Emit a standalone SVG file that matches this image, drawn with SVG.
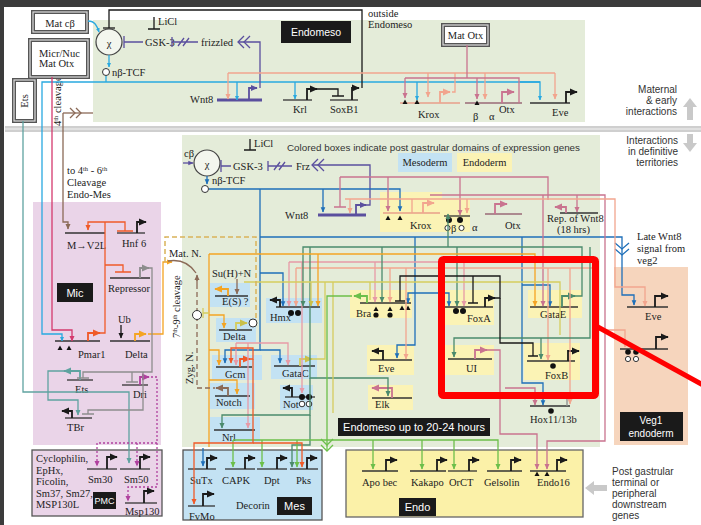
<svg xmlns="http://www.w3.org/2000/svg" width="701" height="525" viewBox="0 0 701 525">
<style>
.l{fill:none;stroke-width:1.3}
.b{fill:none;stroke-width:1.8}
.gl{fill:none;stroke:#333;stroke-width:1.3}
.t{font-family:"Liberation Serif","Times New Roman",serif;font-size:10.5px;fill:#222}
.sa{font-family:"Liberation Sans",Arial,sans-serif}
.w{font-family:"Liberation Sans",Arial,sans-serif;fill:#fff;text-anchor:middle}
.yb{fill:#fbf3b5}
.bb{fill:#c3e2f3}
.k{stroke:#1a1a1a}.cy{stroke:#29a9e0}.bl{stroke:#1e6fb9}.pu{stroke:#5a4f9e}.s{stroke:#f2a58e}.ma{stroke:#c9738f}.cr{stroke:#d43a6e}.br{stroke:#8b6a57}.or{stroke:#f05a28}.ye{stroke:#f4a423}.gr{stroke:#6cbf4a}.dg{stroke:#4a8a6c}.ol{stroke:#d5cd5e}.te{stroke:#5fa3a0}.gy{stroke:#8d8d8d}.mg{stroke:#b0409e}.pk{stroke:#e79aa6}
.dot{fill:#111}
.oc{fill:#fff;stroke:#333;stroke-width:1}
</style>
<defs>
<marker id="ak" viewBox="0 0 10 10" refX="9" refY="5" markerWidth="4.5" markerHeight="4.5" orient="auto"><path d="M0,0.5L10,5L0,9.5z" fill="#1a1a1a"/></marker>
<marker id="acy" viewBox="0 0 10 10" refX="9" refY="5" markerWidth="3.4" markerHeight="3.4" orient="auto"><path d="M0,0.5L10,5L0,9.5z" fill="#29a9e0"/></marker>
<marker id="abl" viewBox="0 0 10 10" refX="9" refY="5" markerWidth="4" markerHeight="4" orient="auto"><path d="M0,0.5L10,5L0,9.5z" fill="#1e6fb9"/></marker>
<marker id="apu" viewBox="0 0 10 10" refX="9" refY="5" markerWidth="4" markerHeight="4" orient="auto"><path d="M0,0.5L10,5L0,9.5z" fill="#5a4f9e"/></marker>
<marker id="asa" viewBox="0 0 10 10" refX="9" refY="5" markerWidth="4.5" markerHeight="4.5" orient="auto"><path d="M0,0.5L10,5L0,9.5z" fill="#f2a58e"/></marker>
<marker id="ama" viewBox="0 0 10 10" refX="9" refY="5" markerWidth="4.5" markerHeight="4.5" orient="auto"><path d="M0,0.5L10,5L0,9.5z" fill="#c9738f"/></marker>
<marker id="acr" viewBox="0 0 10 10" refX="9" refY="5" markerWidth="4.5" markerHeight="4.5" orient="auto"><path d="M0,0.5L10,5L0,9.5z" fill="#d43a6e"/></marker>
<marker id="abr" viewBox="0 0 10 10" refX="9" refY="5" markerWidth="4.5" markerHeight="4.5" orient="auto"><path d="M0,0.5L10,5L0,9.5z" fill="#8b6a57"/></marker>
<marker id="aor" viewBox="0 0 10 10" refX="9" refY="5" markerWidth="4.5" markerHeight="4.5" orient="auto"><path d="M0,0.5L10,5L0,9.5z" fill="#f05a28"/></marker>
<marker id="aye" viewBox="0 0 10 10" refX="9" refY="5" markerWidth="4.5" markerHeight="4.5" orient="auto"><path d="M0,0.5L10,5L0,9.5z" fill="#f4a423"/></marker>
<marker id="agr" viewBox="0 0 10 10" refX="9" refY="5" markerWidth="4.5" markerHeight="4.5" orient="auto"><path d="M0,0.5L10,5L0,9.5z" fill="#6cbf4a"/></marker>
<marker id="adg" viewBox="0 0 10 10" refX="9" refY="5" markerWidth="4.5" markerHeight="4.5" orient="auto"><path d="M0,0.5L10,5L0,9.5z" fill="#4a8a6c"/></marker>
<marker id="aol" viewBox="0 0 10 10" refX="9" refY="5" markerWidth="4.5" markerHeight="4.5" orient="auto"><path d="M0,0.5L10,5L0,9.5z" fill="#c9c04a"/></marker>
<marker id="ate" viewBox="0 0 10 10" refX="9" refY="5" markerWidth="4.5" markerHeight="4.5" orient="auto"><path d="M0,0.5L10,5L0,9.5z" fill="#5fa3a0"/></marker>
<marker id="agy" viewBox="0 0 10 10" refX="9" refY="5" markerWidth="4.5" markerHeight="4.5" orient="auto"><path d="M0,0.5L10,5L0,9.5z" fill="#8d8d8d"/></marker>
<marker id="amg" viewBox="0 0 10 10" refX="9" refY="5" markerWidth="4.5" markerHeight="4.5" orient="auto"><path d="M0,0.5L10,5L0,9.5z" fill="#b0409e"/></marker>
<marker id="apk" viewBox="0 0 10 10" refX="9" refY="5" markerWidth="4.5" markerHeight="4.5" orient="auto"><path d="M0,0.5L10,5L0,9.5z" fill="#e79aa6"/></marker>
</defs>

<!-- backgrounds -->
<rect width="701" height="525" fill="#fff"/>
<rect x="0" y="0" width="701" height="7" fill="#3b3b3b"/>
<rect x="0" y="0" width="4" height="525" fill="#3b3b3b"/>
<rect x="93" y="20" width="492" height="102" fill="#e4ecd9"/>
<rect x="5" y="126" width="696" height="6" fill="#cfcfcf"/>
<line x1="5" y1="129" x2="701" y2="129" stroke="#f4f4f4" stroke-width="1.2"/>
<rect x="182" y="135" width="418" height="312" fill="#e4ecd9"/>
<rect x="33" y="202" width="128" height="243" fill="#ead4e8"/>
<rect x="614" y="267" width="74" height="178" fill="#f6d5bd"/>
<rect x="32" y="450" width="130" height="66" fill="#ead4e8" stroke="#555" stroke-width="1.3"/>
<rect x="183" y="450" width="139" height="70" fill="#c3e2f3" stroke="#555" stroke-width="1.3"/>
<rect x="346" y="450" width="237" height="67" fill="#fbf1a8" stroke="#666" stroke-width="1.3"/>

<!-- side labels -->
<g id="side-labels" class="sa" font-size="10" fill="#333" text-anchor="end">
<text x="677" y="93">Maternal</text><text x="677" y="104">&amp; early</text><text x="677" y="115">interactions</text>
<text x="678" y="144">Interactions</text><text x="678" y="155">in definitive</text><text x="678" y="166">territories</text>
</g>
<g id="side-arrows" fill="#c9c9c9">
<rect x="687" y="106" width="6" height="14"/><polygon points="683,107 690,98 697,107"/>
<rect x="687" y="134" width="6" height="10"/><polygon points="683,143 690,152 697,143"/>
<rect x="593" y="485" width="14" height="6"/><polygon points="594,481 585,488 594,495"/>
</g>
<g id="post-label" class="sa" font-size="10" fill="#333">
<text x="612" y="475">Post gastrular</text><text x="612" y="486">terminal or</text><text x="612" y="497">peripheral</text><text x="612" y="508">downstream</text><text x="612" y="519">genes</text>
</g>
<text class="t" x="368" y="17" font-size="9.5">outside</text>
<text class="t" x="368" y="28" font-size="9.5">Endomeso</text>
<text class="sa" x="287" y="151" font-size="9.5" fill="#333" textLength="293" lengthAdjust="spacingAndGlyphs">Colored boxes indicate post gastrular domains of expression genes</text>
<text class="t" x="67" y="174" font-size="9.5">to 4<tspan font-size="6.5" dy="-3">th</tspan><tspan dy="3"> - 6</tspan><tspan font-size="6.5" dy="-3">th</tspan></text>
<text class="t" x="67" y="186" font-size="9.5">Cleavage</text>
<text class="t" x="67" y="198" font-size="9.5">Endo-Mes</text>
<text class="t" transform="translate(61,126) rotate(-90)" font-size="9.5" fill="#444">4<tspan font-size="6.5" dy="-3">th</tspan><tspan dy="3"> cleavage</tspan></text>
<text class="t" transform="translate(180,338) rotate(-90)" font-size="9" fill="#d4a642">7<tspan font-size="6" dy="-3">th</tspan><tspan dy="3">-9</tspan><tspan font-size="6" dy="-3">th</tspan><tspan dy="3"> cleavage</tspan></text>
<text class="t" transform="translate(193,384) rotate(-90)" font-size="9.5" fill="#8b6a57">Zyg. N.</text>
<text class="t" x="169" y="257" font-size="9.5" fill="#8b6a57">Mat. N.</text>
<text class="t" x="212" y="277" font-size="9.5" fill="#8b6a57">Su(H)+N</text>
<text class="t" x="637" y="240" font-size="10">Late Wnt8</text>
<text class="t" x="637" y="252" font-size="10">signal from</text>
<text class="t" x="637" y="264" font-size="10">veg2</text>

<!-- label boxes -->
<g id="lbl-endomeso"><rect x="281" y="21" width="70" height="22" fill="#1a1a1a"/><text class="w" x="316" y="36" font-size="10.5">Endomeso</text></g>
<g id="lbl-mesoderm"><rect x="398" y="153" width="54" height="19" class="bb"/><text class="t" x="425" y="166" text-anchor="middle" font-size="10">Mesoderm</text></g>
<g id="lbl-endoderm"><rect x="457" y="153" width="55" height="19" class="yb"/><text class="t" x="484.5" y="166" text-anchor="middle" font-size="10">Endoderm</text></g>
<g id="lbl-mic"><rect x="57" y="283" width="36" height="19" fill="#1a1a1a"/><text class="w" x="75" y="297" font-size="11">Mic</text></g>
<g id="lbl-pmc"><rect x="93" y="492" width="23" height="17" fill="#1a1a1a"/><text class="w" x="104.5" y="504" font-size="9">PMC</text></g>
<g id="lbl-mes"><rect x="277" y="497" width="35" height="18" fill="#1a1a1a"/><text class="w" x="294.5" y="510" font-size="11">Mes</text></g>
<g id="lbl-endo"><rect x="399" y="498" width="37" height="18" fill="#1a1a1a"/><text class="w" x="417.5" y="511" font-size="11">Endo</text></g>
<g id="lbl-veg1"><rect x="620" y="412" width="63" height="29" fill="#1a1a1a"/><text class="w" x="651" y="424" font-size="10">Veg1</text><text class="w" x="651" y="437" font-size="10">endoderm</text></g>
<g id="lbl-endomeso2"><rect x="338" y="418" width="152" height="18" fill="#1a1a1a"/><text class="w" x="414" y="431" font-size="11">Endomeso up to 20-24 hours</text></g>

<!-- ===== top nodes ===== -->
<g id="n-matcb"><rect x="33" y="12" width="54" height="20" fill="#fff" stroke="#555" stroke-width="4"/><rect x="33" y="12" width="54" height="20" fill="none" stroke="#ddd" stroke-width="1.2"/><text class="t" x="60" y="27" text-anchor="middle" font-size="11">Mat cβ</text></g>
<g id="n-micr"><rect x="30" y="40" width="58" height="37" fill="#fff" stroke="#555" stroke-width="4"/><rect x="30" y="40" width="58" height="37" fill="none" stroke="#ddd" stroke-width="1.2"/><text class="t" x="39" y="57" font-size="9.5">Micr/Nuc</text><text class="t" x="39" y="67" font-size="9.5">Mat Otx</text></g>
<g id="n-ets-mat"><rect x="14" y="80" width="21" height="41" fill="#fff" stroke="#555" stroke-width="4"/><rect x="14" y="80" width="21" height="41" fill="none" stroke="#ddd" stroke-width="1.2"/><text class="t" transform="translate(28,101) rotate(-90)" text-anchor="middle" font-size="11">Ets</text></g>
<g id="n-matotx"><rect x="443" y="25" width="45" height="20" fill="#fff" stroke="#555" stroke-width="4"/><rect x="443" y="25" width="45" height="20" fill="none" stroke="#ddd" stroke-width="1.2"/><text class="t" x="465.5" y="39" text-anchor="middle" font-size="10">Mat Otx</text></g>
<g id="n-chi1"><circle cx="109" cy="42" r="13" fill="#f3f6ee" stroke="#444" stroke-width="1.2"/><text class="t" x="109" y="47" text-anchor="middle" font-size="13">χ</text></g>
<g id="n-gsk1"><text class="t" x="145" y="46" font-size="10.5">GSK-3</text><text class="t" x="158" y="25" font-size="9.5">LiCl</text></g>
<g id="n-frizzled"><text class="t" x="201" y="46" font-size="10.5" fill="#8a86b5">frizzled</text></g>
<g id="n-ntcf1"><circle cx="106" cy="72" r="3.5" class="oc"/><text class="t" x="112" y="76" font-size="11">nβ-TCF</text></g>
<g id="n-wnt8a"><path d="M217,100H262" fill="none" stroke="#5a4f9e" stroke-width="3"/><path class="b pu" d="M249,100V88H257" marker-end="url(#apu)"/><text class="t" x="190" y="103" font-size="11" fill="#7b78b0">Wnt8</text></g>
<g id="n-krl"><path class="gl" d="M283,100H312"/><path class="b k" d="M307,100V89H317" marker-end="url(#ak)"/><text class="t" x="293" y="113">Krl</text></g>
<g id="n-soxb1"><path class="gl" d="M330,100H358"/><path class="b k" d="M352,100V88H359" marker-end="url(#ak)"/><text class="t" x="330" y="113">SoxB1</text></g>
<g id="n-krox1"><path d="M400,103H460" fill="none" stroke="#e99f8a" stroke-width="1.3"/><path class="b s" d="M440,103V92H450" marker-end="url(#asa)"/><polygon class="dot" points="402.5,104 405,99.5 407.5,104"/><polygon class="dot" points="414.5,104 417,99.5 419.5,104"/><text class="t" x="418" y="118" fill="#e0998a">Krox</text></g>
<g id="n-otx1"><path d="M465,103H522" fill="none" stroke="#9a6a76" stroke-width="1.3"/><path class="b ma" d="M502,103V92H514" marker-end="url(#ama)"/><polygon class="dot" points="474.5,105 477,100.5 479.5,105"/><text class="t" x="473" y="120" font-size="12.5">β</text><text class="t" x="489" y="120" font-size="12.5">α</text><text class="t" x="499" y="113" font-size="9" fill="#c9738f">Otx</text></g>
<g id="n-eve1"><path class="gl" d="M530,103H570"/><path class="b k" d="M566,103V92H577" marker-end="url(#ak)"/><text class="t" x="552" y="116">Eve</text></g>

<!-- ===== bottom nodes ===== -->
<g id="n-chi2"><circle cx="207" cy="163" r="13" fill="#f3f6ee" stroke="#444" stroke-width="1.2"/><text class="t" x="207" y="168" text-anchor="middle" font-size="13">χ</text><text class="t" x="184" y="157" font-size="11">cβ</text></g>
<g id="n-gsk2"><text class="t" x="233" y="170" font-size="10.5">GSK-3</text><text class="t" x="254" y="147" font-size="9.5">LiCl</text></g>
<g id="n-frz"><text class="t" x="296" y="170" font-size="10.5" fill="#9d99c4">Frz</text></g>
<g id="n-ntcf2"><circle cx="205" cy="189" r="3.5" class="oc"/><text class="t" x="212" y="184" font-size="11">nβ-TCF</text></g>
<g id="n-wnt8b"><path d="M318,215H366" fill="none" stroke="#5a4f9e" stroke-width="3"/><path class="b pu" d="M356,215V205H366" marker-end="url(#apu)"/><text class="t" x="285" y="219" font-size="11" fill="#7b78b0">Wnt8</text></g>
<g id="n-krox2"><rect x="380" y="192" width="62" height="40" class="yb"/><path d="M383,213H440" fill="none" stroke="#e99f8a" stroke-width="1.3"/><path class="b s" d="M423,213V203H434" marker-end="url(#asa)"/><polygon class="dot" points="385.5,220 388,215.5 390.5,220"/><polygon class="dot" points="397.5,220 400,215.5 402.5,220"/><text class="t" x="410" y="229" fill="#e0998a">Krox</text></g>
<g id="n-cbo"><rect x="442" y="200" width="28" height="32" class="yb"/><path class="gl" d="M444,216H470"/><circle class="dot" cx="449" cy="220" r="3"/><circle class="dot" cx="460" cy="220" r="3"/><circle class="oc" cx="447.5" cy="228" r="2.6"/><text class="t" x="451" y="232" font-size="9">β</text><circle class="oc" cx="461.5" cy="228" r="2.6"/></g>
<g id="n-otx2"><text class="t" x="472" y="231" font-size="12.5">α</text><path d="M485,214H522" fill="none" stroke="#9a6a76" stroke-width="1.3"/><path class="b ma" d="M495,214V204H507" marker-end="url(#ama)"/><text class="t" x="505" y="229" font-size="10" fill="#c9738f">Otx</text></g>
<g id="n-repwnt8"><path class="gl" d="M560,213H598"/><path class="b ma" d="M566,213V207H555" marker-end="url(#ama)"/><text class="t" x="547" y="222" font-size="10">Rep. of Wnt8</text><text class="t" x="557" y="233" font-size="10">(18 hrs)</text></g>
<g id="n-hmx"><rect x="266" y="298" width="56" height="25" class="bb"/><path class="gl" d="M276,307H320"/><path class="b k" d="M280,307V300H270" marker-end="url(#ak)"/><circle class="dot" cx="291" cy="313" r="3"/><circle class="dot" cx="298" cy="313" r="3"/><text class="t" x="270" y="321">Hmx</text></g>
<g id="n-bra"><rect x="350" y="290" width="62" height="28" class="yb"/><path class="gl" d="M360,303H411"/><path class="b gr" d="M367,303V296H354" marker-end="url(#agr)"/><polygon class="dot" points="373.5,311 376,306.5 378.5,311"/><circle class="dot" cx="376" cy="315" r="2.6"/><polygon class="dot" points="387.5,311 390,306.5 392.5,311"/><circle class="dot" cx="390" cy="315" r="2.6"/><polygon class="dot" points="399.5,310 402,305.5 404.5,310"/><polygon class="dot" points="405.5,310 408,305.5 410.5,310"/><text class="t" x="356" y="317">Bra</text></g>
<g id="n-foxa"><rect x="442" y="290" width="52" height="35" class="yb"/><path class="gl" d="M445,307H493"/><path class="b k" d="M485,307V298H495" marker-end="url(#ak)"/><circle class="dot" cx="456" cy="311" r="3"/><circle class="dot" cx="463" cy="311" r="3"/><text class="t" x="467" y="322">FoxA</text></g>
<g id="n-gatae"><rect x="528" y="290" width="54" height="28" class="yb"/><path class="gl" d="M530,307H578"/><path class="b dg" d="M562,307V296H575" marker-end="url(#adg)"/><text class="t" x="540" y="318">GataE</text></g>
<g id="n-eve2"><rect x="367" y="345" width="47" height="30" class="yb"/><path class="gl" d="M370,360H412"/><path class="b k" d="M383,360V351H372" marker-end="url(#ak)"/><text class="t" x="378" y="372">Eve</text></g>
<g id="n-ui"><rect x="444" y="345" width="50" height="30" class="yb"/><path class="gl" d="M448,359H492"/><path class="b ma" d="M475,359V350H487" marker-end="url(#ama)"/><text class="t" x="466" y="372">UI</text></g>
<g id="n-foxb"><rect x="524" y="343" width="56" height="37" class="yb"/><path class="gl" d="M527,361H575"/><path class="b k" d="M568,361V351H579" marker-end="url(#ak)"/><circle class="dot" cx="553" cy="366" r="2.8"/><text class="t" x="545" y="379">FoxB</text></g>
<g id="n-hox"><path class="gl" d="M530,406H570"/><path class="l gy" d="M567,406V393H576"/><circle class="dot" cx="551" cy="411" r="2.8"/><text class="t" x="530" y="423">Hox11/13b</text></g>
<g id="n-elk"><rect x="368" y="385" width="45" height="25" class="yb"/><path class="gl" d="M372,398H412"/><path class="b ma" d="M392,398V388H372" marker-end="url(#ama)"/><text class="t" x="375" y="408">Elk</text></g>
<g id="n-es"><rect x="210" y="283" width="40" height="24" class="bb"/><path class="gl" d="M215,296H248"/><path class="b ye" d="M228,296V289H215" marker-end="url(#aye)"/><text class="t" x="222" y="305">E(S) ?</text></g>
<g id="n-delta2"><rect x="216" y="318" width="40" height="24" class="bb"/><path class="gl" d="M219,330H252"/><path class="b ol" d="M236,330V323H247" marker-end="url(#aol)"/><circle class="oc" cx="253" cy="323" r="4"/><text class="t" x="223" y="340">Delta</text></g>
<g id="n-gcm"><rect x="212" y="355" width="50" height="25" class="bb"/><path class="gl" d="M216,367H252"/><path class="b or" d="M240,367V359H250" marker-end="url(#aor)"/><text class="t" x="225" y="378">Gcm</text></g>
<g id="n-gatac"><rect x="271" y="355" width="46" height="24" class="bb"/><path class="gl" d="M274,366H315"/><path class="b ol" d="M300,366V359H312" marker-end="url(#aol)"/><text class="t" x="282" y="377">GataC</text></g>
<g id="n-notch"><rect x="210" y="383" width="45" height="26" class="bb"/><path class="gl" d="M215,396H250"/><path class="b br" d="M228,396V388H216" marker-end="url(#abr)"/><text class="t" x="216" y="406">Notch</text></g>
<g id="n-not"><rect x="280" y="385" width="33" height="25" class="bb"/><path class="gl" d="M285,397H315"/><path class="b k" d="M292,397V388H283" marker-end="url(#ak)"/><circle class="dot" cx="302" cy="397" r="3"/><circle class="dot" cx="309" cy="397" r="3"/><text class="t" x="283" y="408">Not</text><circle class="oc" cx="302" cy="404" r="2.8"/><circle class="oc" cx="309" cy="404" r="2.8"/></g>
<g id="n-nrl"><rect x="210" y="417" width="50" height="26" class="bb"/><path class="gl" d="M214,430H255"/><text class="t" x="222" y="441">Nrl</text></g>
<g id="n-eve-veg"><path class="gl" d="M627,307H668"/><path class="b k" d="M655,307V296H668" marker-end="url(#ak)"/><text class="t" x="645" y="320">Eve</text></g>
<g id="n-veg-b"><path class="gl" d="M620,349H668"/><path class="b k" d="M656,349V337H668" marker-end="url(#ak)"/><circle class="dot" cx="628" cy="352" r="2.8"/><circle class="dot" cx="636" cy="352" r="2.8"/><circle class="oc" cx="628" cy="359" r="2.6"/><circle class="oc" cx="636" cy="359" r="2.6"/></g>

<!-- Mic nodes -->
<g id="n-mv2l"><path class="gl" d="M65,233H105"/><text class="t" x="67" y="249">M→V2L</text></g>
<g id="n-hnf6"><path class="gl" d="M117,233H145"/><path class="b k" d="M137,233V222H146" marker-end="url(#ak)"/><text class="t" x="122" y="247">Hnf 6</text></g>
<g id="n-repressor"><path class="gl" d="M110,278H150"/><path class="b gy" d="M140,278V268H149" marker-end="url(#agy)"/><text class="t" x="108" y="292">Repressor</text></g>
<g id="n-pmar1"><path class="gl" d="M55,341H100"/><path class="b or" d="M88,341V333H100" marker-end="url(#aor)"/><polygon class="dot" points="57.5,350 60,345.5 62.5,350"/><polygon class="dot" points="66.5,350 69,345.5 71.5,350"/><text class="t" x="78" y="358">Pmar1</text></g>
<g id="n-delta1"><path class="gl" d="M110,341H150"/><path class="b ye" d="M135,341V334H146" marker-end="url(#aye)"/><text class="t" x="118" y="323" font-size="10">Ub</text><text class="t" x="125" y="358">Delta</text></g>
<g id="n-ets"><path class="gl" d="M67,380H93"/><path class="b te" d="M80,380V371H64" marker-end="url(#ate)"/><text class="t" x="75" y="393">Ets</text></g>
<g id="n-dri"><path class="gl" d="M122,385H148"/><path class="b mg" d="M140,385V377H149" marker-end="url(#amg)"/><text class="t" x="133" y="398">Dri</text></g>
<g id="n-tbr"><path class="gl" d="M65,418H92"/><path class="b k" d="M72,418V411H62" marker-end="url(#ak)"/><text class="t" x="67" y="431">TBr</text></g>
<g id="n-pmclist"><text class="t" x="36" y="462" font-size="10">Cyclophilin,</text><text class="t" x="36" y="474" font-size="10">EpHx,</text><text class="t" x="36" y="485" font-size="10">Ficolin,</text><text class="t" x="36" y="497" font-size="10">Sm37, Sm27,</text><text class="t" x="36" y="508" font-size="10">MSP130L</text></g>
<g id="n-sm30"><path class="gl" d="M87,469H117"/><path class="b k" d="M107,469V457H117" marker-end="url(#ak)"/><text class="t" x="88" y="483">Sm30</text></g>
<g id="n-sm50"><path class="gl" d="M120,469H150"/><path class="b k" d="M140,469V457H150" marker-end="url(#ak)"/><text class="t" x="124" y="483">Sm50</text></g>
<g id="n-msp130"><path class="gl" d="M125,503H157"/><path class="b k" d="M144,503V491H154" marker-end="url(#ak)"/><text class="t" x="125" y="515">Msp130</text></g>

<!-- Mes / Endo nodes -->
<g id="n-sutx"><path class="gl" d="M188,469H216"/><path class="b k" d="M207,469V458H217" marker-end="url(#ak)"/><text class="t" x="190" y="484">SuTx</text></g>
<g id="n-capk"><path class="gl" d="M225,469H255"/><path class="b k" d="M245,469V458H255" marker-end="url(#ak)"/><text class="t" x="222" y="484">CAPK</text></g>
<g id="n-dpt"><path class="gl" d="M257,469H287"/><path class="b k" d="M277,469V458H287" marker-end="url(#ak)"/><text class="t" x="264" y="484">Dpt</text></g>
<g id="n-pks"><path class="gl" d="M290,469H318"/><path class="b k" d="M307,469V458H317" marker-end="url(#ak)"/><text class="t" x="296" y="484">Pks</text></g>
<g id="n-fvmo"><path class="gl" d="M188,506H215"/><path class="b k" d="M203,506V494H214" marker-end="url(#ak)"/><text class="t" x="189" y="520">FvMo</text></g>
<g id="n-decorin"><text class="t" x="236" y="509">Decorin</text></g>
<g id="n-apobec"><path class="gl" d="M362,471H398"/><path class="b k" d="M386,471V460H397" marker-end="url(#ak)"/><text class="t" x="362" y="486">Apo bec</text></g>
<g id="n-kakapo"><path class="gl" d="M410,471H446"/><path class="b k" d="M437,471V460H447" marker-end="url(#ak)"/><text class="t" x="411" y="486">Kakapo</text></g>
<g id="n-orct"><path class="gl" d="M448,471H477"/><path class="b k" d="M469,471V460H479" marker-end="url(#ak)"/><text class="t" x="449" y="486">OrCT</text></g>
<g id="n-gelsolin"><path class="gl" d="M487,471H522"/><path class="b k" d="M511,471V460H521" marker-end="url(#ak)"/><text class="t" x="484" y="486">Gelsolin</text></g>
<g id="n-endo16"><path class="gl" d="M530,471H566"/><path class="b k" d="M557,471V460H567" marker-end="url(#ak)"/><polygon class="dot" points="534.5,476 537,471.5 539.5,476"/><polygon class="dot" points="544.5,476 547,471.5 549.5,476"/><text class="t" x="537" y="486">Endo16</text></g>

<!-- ===== connectors ===== -->
<g id="connectors">
<!-- top panel -->
<path class="l cy" stroke-width="2.5" d="M88,21C95,21 97,26 99,32" marker-end="url(#acy)"/>
<path class="l cy" stroke-width="2.5" d="M109,55V67" marker-end="url(#acy)"/>
<path class="l cy" stroke-width="3" d="M106,76V82"/>
<path class="l cy" stroke-width="3" d="M540,82H42V334H62V341" marker-end="url(#acy)"/>
<path class="l cy" stroke-width="3" d="M520,82H540V100" marker-end="url(#acy)"/>
<path class="l cy" stroke-width="2.5" d="M237,82V100" marker-end="url(#acy)"/>
<path class="l cy" stroke-width="2.5" d="M295,82V99" marker-end="url(#acy)"/>
<path class="l cy" stroke-width="2.5" d="M417,82V100" marker-end="url(#acy)"/>
<path class="l cr" stroke-width="1.6" d="M52,77V330H72V341" marker-end="url(#acr)"/>
<path class="l te" d="M23,121V392H129V463" marker-end="url(#ate)"/>
<path class="l br" stroke-width="1.6" d="M63,113H93"/>
<polyline class="l br" stroke-width="1.5" points="70,108 75,113 70,118"/>
<polyline class="l br" stroke-width="1.5" points="76,108 81,113 76,118"/>
<path class="l br" stroke-width="1.6" d="M63,113V222H68V229" marker-end="url(#abr)"/>
<path class="l k" d="M362,88V10H109V28"/>
<path class="l k" stroke-width="1.6" d="M103,28H115"/>
<path class="l k" d="M154,17V29M148,29H160"/>
<path class="l pu" stroke-width="2" d="M143,42H124M124,36V48"/>
<path class="l pu" stroke-width="2" d="M172,37V47M172,42H198M178,46L184,38M183,46L189,38"/>
<path class="l pu" stroke-width="2" d="M260,88V42H238"/>
<polyline class="l pu" stroke-width="2" points="244,36 238,42 244,48"/>
<polyline class="l pu" stroke-width="2" points="250,36 244,42 250,48"/>
<path class="l k" d="M317,89H338V96M332,96H344"/>
<path class="l s" d="M228,73H555"/>
<path class="l s" d="M228,73V99" marker-end="url(#asa)"/>
<path class="l s" d="M428,73V97" marker-end="url(#asa)"/>
<path class="l s" d="M452,92H455V73"/>
<path class="l s" d="M485,73V99" marker-end="url(#asa)"/>
<path class="l s" d="M555,73V99" marker-end="url(#asa)"/>
<path class="l ma" stroke-width="1.5" d="M467,45V78M405,78H519V103"/>
<path class="l ma" stroke-width="1.5" d="M405,78V98" marker-end="url(#ama)"/>
<path class="l ma" stroke-width="1.5" d="M477,78V99" marker-end="url(#ama)"/>

<!-- bottom panel: Wnt / TCF -->
<path class="l pu" stroke-width="2" d="M183,163H193" marker-end="url(#apu)"/>
<path class="l k" d="M250,139V150M244,150H256"/>
<path class="l pu" stroke-width="2" d="M231,166H221M221,160V172"/>
<path class="l pu" stroke-width="2" d="M268,161V171M268,166H292M274,170L280,162M279,170L285,162"/>
<path class="l pu" stroke-width="2" d="M366,205H370V165H312"/>
<polyline class="l pu" stroke-width="2" points="318,159 312,165 318,171"/>
<polyline class="l pu" stroke-width="2" points="324,159 318,165 324,171"/>
<path class="l bl" stroke-width="2" d="M207,176V184" marker-end="url(#abl)"/>
<path class="l bl" stroke-width="2" d="M209,189H400V211" marker-end="url(#abl)"/>
<path class="l bl" stroke-width="2" d="M323,189V212" marker-end="url(#abl)"/>
<path class="l bl" stroke-width="2" d="M260,189V350H225V363" marker-end="url(#abl)"/>
<path class="l bl" stroke-width="2" d="M260,350H280V363" marker-end="url(#abl)"/>
<path class="l bl" stroke-width="2" d="M260,273H283V306" marker-end="url(#abl)"/>
<path class="l bl" stroke-width="2" d="M260,237H622V295H634V305" marker-end="url(#abl)"/>
<polyline class="l bl" stroke-width="2" points="615,243 622,249 629,243"/>
<polyline class="l bl" stroke-width="2" points="615,249 622,255 629,249"/>
<path class="l bl" stroke-width="2" d="M415,237V345H397V358" marker-end="url(#abl)"/>
<path class="l bl" stroke-width="2" d="M415,293H408V303" marker-end="url(#abl)"/>
<path class="l bl" stroke-width="2" d="M415,293H449V306" marker-end="url(#abl)"/>
<path class="l bl" stroke-width="2" d="M522,237V383H543V405" marker-end="url(#abl)"/>
<path class="l bl" stroke-width="2" d="M522,285H550V306" marker-end="url(#abl)"/>
<path class="l bl" stroke-width="2" d="M203,448V466" marker-end="url(#abl)"/>

<!-- mauve / salmon / pink -->
<path class="l ma" d="M340,177H548V200"/>
<path class="l ma" d="M340,177V207M334,207H346"/>
<path class="l ma" d="M388,177V211" marker-end="url(#ama)"/>
<path class="l ma" d="M460,177V215" marker-end="url(#ama)"/>
<path class="l ma" d="M430,195H605V441H547V469" marker-end="url(#ama)"/>
<path class="l ma" d="M577,195V212" marker-end="url(#ama)"/>
<path class="l ma" d="M543,195V306" marker-end="url(#ama)"/>
<path class="l ma" d="M487,350H500V434H537V469" marker-end="url(#ama)"/>
<path class="l ma" d="M505,388H535V405" marker-end="url(#ama)"/>
<path class="l s" d="M345,199H615V287H645V306" marker-end="url(#asa)"/>
<path class="l s" d="M350,199V213" marker-end="url(#asa)"/>
<path class="l s" d="M412,199V213"/>
<path class="l s" d="M467,199V213" marker-end="url(#asa)"/>
<path class="l pk" d="M289,262H560"/>
<path class="l pk" d="M289,262V306" marker-end="url(#apk)"/>
<path class="l pk" d="M375,262V302" marker-end="url(#apk)"/>
<path class="l pk" d="M464,262V306" marker-end="url(#apk)"/>
<path class="l pk" d="M302,262V393" marker-end="url(#apk)"/>
<path class="l pk" d="M236,343H288V365" marker-end="url(#apk)"/>
<path class="l pk" d="M236,343V365" marker-end="url(#apk)"/>
<path class="l pk" d="M248,343V428" marker-end="url(#apk)"/>
<path class="l s" d="M296,268H598V330H625V347" marker-end="url(#asa)"/>
<path class="l s" d="M296,268V306" marker-end="url(#asa)"/>
<path class="l s" d="M390,268V302" marker-end="url(#asa)"/>
<path class="l s" d="M406,268V359" marker-end="url(#asa)"/>
<path class="l s" d="M548,268V360" marker-end="url(#asa)"/>
<path class="l s" d="M570,268V404" marker-end="url(#asa)"/>

<!-- dark green -->
<path class="l dg" stroke-width="1.5" d="M575,296H582V247H303V306" marker-end="url(#adg)"/>
<path class="l dg" stroke-width="1.5" d="M382,247V302" marker-end="url(#adg)"/>
<path class="l dg" stroke-width="1.5" d="M457,247V306" marker-end="url(#adg)"/>
<path class="l dg" stroke-width="1.5" d="M448,247V214" marker-end="url(#adg)"/>
<path class="l dg" stroke-width="1.5" d="M590,247V338H454V357" marker-end="url(#adg)"/>
<path class="l dg" stroke-width="1.5" d="M541,338V359" marker-end="url(#adg)"/>
<path class="l dg" stroke-width="1.5" d="M310,247V378H388V396" marker-end="url(#adg)"/>
<path class="l dg" stroke-width="1.5" d="M310,378V415H222V428" marker-end="url(#adg)"/>
<path class="l dg" stroke-width="1.5" d="M310,415V445H292V467" marker-end="url(#adg)"/>

<!-- orange / olive -->
<path class="l ye" stroke-width="1.6" d="M209,254H535V306" marker-end="url(#aye)"/>
<path class="l ye" stroke-width="1.6" d="M318,254V306" marker-end="url(#aye)"/>
<path class="l ye" stroke-width="1.6" d="M209,254V447"/>
<path class="l ye" stroke-width="1.6" d="M209,315H224V328" marker-end="url(#aye)"/>
<path class="l ye" stroke-width="1.6" d="M209,350H219V365" marker-end="url(#aye)"/>
<path class="l ye" stroke-width="1.6" d="M209,380H237V394" marker-end="url(#aye)"/>
<path class="l ye" stroke-width="1.6" d="M148,334H163V262H172" marker-end="url(#aye)"/>
<path class="l ol" stroke-width="1.5" d="M244,282H560V335"/>
<path class="l ol" stroke-width="1.5" d="M311,282V306" marker-end="url(#aol)"/>
<path class="l ol" stroke-width="1.5" d="M312,359H325V282"/>
<path class="l ol" stroke-width="1.5" d="M333,282V413"/>
<path class="l ol" stroke-width="1.5" d="M370,282V300"/>
<path class="l ol" stroke-width="1.5" d="M203,313H209M203,308V318"/>

<!-- black FoxA -->
<path class="l k" stroke-width="1.5" d="M495,298H500V276H400V301M395,301H405"/>
<path class="l k" stroke-width="1.5" d="M473,276V303M468,303H478"/>
<path class="l k" stroke-width="1.5" d="M500,298V343H533V356M528,356H538"/>

<!-- green to terminal genes -->
<path class="l gr" stroke-width="1.5" d="M352,296H327V450"/>
<polyline class="l gr" stroke-width="1.5" points="321,439 327,445 333,439"/>
<polyline class="l gr" stroke-width="1.5" points="321,445 327,451 333,445"/>
<path class="l gr" stroke-width="1.5" d="M233,440H498V469" marker-end="url(#agr)"/>
<path class="l gr" stroke-width="1.5" d="M233,440V467" marker-end="url(#agr)"/>
<path class="l gr" stroke-width="1.5" d="M262,440V467" marker-end="url(#agr)"/>
<path class="l gr" stroke-width="1.5" d="M297,440V467" marker-end="url(#agr)"/>
<path class="l gr" stroke-width="1.5" d="M373,440V469" marker-end="url(#agr)"/>
<path class="l gr" stroke-width="1.5" d="M422,440V469" marker-end="url(#agr)"/>
<path class="l gr" stroke-width="1.5" d="M454,440V469" marker-end="url(#agr)"/>

<!-- Gcm outputs -->
<path class="l or" d="M250,359H253V348H231V363" marker-end="url(#aor)"/>
<path class="l or" d="M253,359V443H194V504" marker-end="url(#aor)"/>
<path class="l or" d="M253,443H302V467" marker-end="url(#aor)"/>

<!-- notch / Su(H) -->
<path class="l br" stroke-width="1.5" d="M168,261Q186,258 196,273"/>
<path class="l br" stroke-width="1.5" stroke-dasharray="5,3" d="M197,276V388H215"/>
<path class="l br" stroke-width="1.5" d="M197,284V275" marker-end="url(#abr)"/>
<circle cx="197" cy="315" r="4.5" class="oc"/>
<path class="l br" stroke-width="1.5" d="M237,279V294" marker-end="url(#abr)"/>
<path fill="none" stroke="#d9b35a" stroke-width="1.5" stroke-dasharray="5,3" d="M165,262V237H256V318"/>

<!-- Mic connectors -->
<path class="l or" stroke-width="1.6" d="M100,333H105V222"/>
<path class="l or" stroke-width="1.6" d="M105,222H88V230" marker-end="url(#aor)"/>
<path class="l or" stroke-width="1.6" d="M105,222H125V231M117,231H133"/>
<path class="l or" stroke-width="1.6" d="M105,265H123V272M115,272H131"/>
<path class="l gy" d="M149,268H152V372H83V378M77,378H89"/>
<path class="l gy" d="M132,372V382M126,382H138"/>
<path class="l gy" d="M143,372V410H88V414M82,414H94"/>
<path class="l k" d="M121,325V338" marker-end="url(#ak)"/>
<path class="l te" d="M64,371H48V400H78V415" marker-end="url(#ate)"/>
<path class="l mg" stroke-dasharray="2,2" d="M151,377H157V487H128V501" marker-end="url(#amg)"/>
<path class="l mg" stroke-dasharray="2,2" d="M157,443H97V466" marker-end="url(#amg)"/>
<path class="l mg" stroke-dasharray="2,2" d="M137,443V466" marker-end="url(#amg)"/>
</g>

<!-- annotation overlay -->
<rect x="441.5" y="259.5" width="154" height="136" rx="2" fill="none" stroke="#ff0000" stroke-width="7"/>
<line x1="596" y1="326" x2="705" y2="386" stroke="#ff0000" stroke-width="5"/>
</svg>
